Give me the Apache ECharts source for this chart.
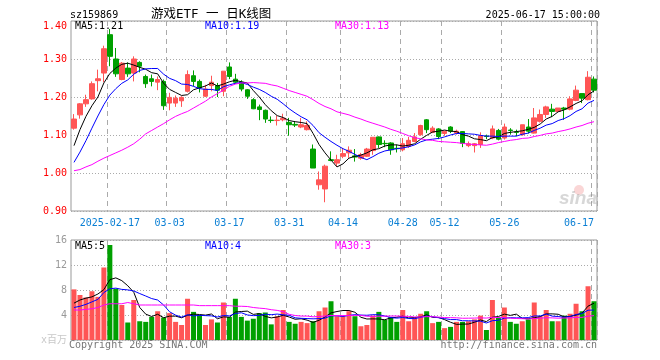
<!DOCTYPE html>
<html><head><meta charset="utf-8">
<script src="https://cdn.jsdelivr.net/npm/echarts@6/dist/echarts.min.js"></script>
<style>html,body{margin:0;padding:0;background:#fff}#c{width:660px;height:360px}</style>
</head><body><div id="c"></div>
<script>
const stockCode = 'sz159869';
const chartTitle = '游戏ETF 一 日K线图';
const timeStamp = '2025-06-17 15:00:00';

const dates = ['2025-02-07','2025-02-10','2025-02-11','2025-02-12','2025-02-13','2025-02-14',
'2025-02-17','2025-02-18','2025-02-19','2025-02-20','2025-02-21',
'2025-02-24','2025-02-25','2025-02-26','2025-02-27','2025-02-28',
'2025-03-03','2025-03-04','2025-03-05','2025-03-06','2025-03-07',
'2025-03-10','2025-03-11','2025-03-12','2025-03-13','2025-03-14',
'2025-03-17','2025-03-18','2025-03-19','2025-03-20','2025-03-21',
'2025-03-24','2025-03-25','2025-03-26','2025-03-27','2025-03-28',
'2025-03-31','2025-04-01','2025-04-02','2025-04-03',
'2025-04-07','2025-04-08','2025-04-09','2025-04-10','2025-04-11',
'2025-04-14','2025-04-15','2025-04-16','2025-04-17','2025-04-18',
'2025-04-21','2025-04-22','2025-04-23','2025-04-24','2025-04-25',
'2025-04-28','2025-04-29','2025-04-30',
'2025-05-06','2025-05-07','2025-05-08','2025-05-09',
'2025-05-12','2025-05-13','2025-05-14','2025-05-15','2025-05-16',
'2025-05-19','2025-05-20','2025-05-21','2025-05-22','2025-05-23',
'2025-05-26','2025-05-27','2025-05-28','2025-05-29','2025-05-30',
'2025-06-03','2025-06-04','2025-06-05','2025-06-06',
'2025-06-09','2025-06-10','2025-06-11','2025-06-12','2025-06-13',
'2025-06-16','2025-06-17'];

const tickDates = ['2025-02-17','2025-03-03','2025-03-17','2025-03-31','2025-04-14','2025-04-28','2025-05-12','2025-05-26','2025-06-17'];

const openP = [1.118,1.153,1.182,1.195,1.243,1.263,1.364,1.300,1.246,1.276,1.263,1.291,1.254,1.248,1.239,1.241,1.184,1.184,1.190,1.215,1.256,1.241,1.202,1.230,1.230,1.215,1.279,1.247,1.239,1.219,1.193,1.174,1.165,1.139,1.138,1.140,1.133,1.128,1.121,1.114,1.063,0.969,0.958,1.035,1.026,1.044,1.053,1.045,1.039,1.044,1.059,1.095,1.078,1.079,1.065,1.061,1.070,1.083,1.101,1.140,1.107,1.116,1.104,1.121,1.105,1.109,1.072,1.072,1.075,1.097,1.092,1.112,1.092,1.113,1.108,1.101,1.121,1.105,1.136,1.154,1.168,1.162,1.171,1.168,1.191,1.209,1.193,1.247];
const closeP = [1.142,1.182,1.193,1.235,1.248,1.327,1.307,1.261,1.289,1.261,1.300,1.281,1.235,1.241,1.246,1.177,1.199,1.197,1.199,1.259,1.241,1.224,1.221,1.239,1.218,1.268,1.254,1.239,1.221,1.202,1.169,1.167,1.142,1.138,1.139,1.144,1.127,1.126,1.127,1.125,1.013,0.982,1.018,1.033,1.035,1.051,1.060,1.042,1.048,1.063,1.094,1.075,1.077,1.061,1.064,1.077,1.086,1.095,1.125,1.114,1.118,1.096,1.110,1.110,1.110,1.078,1.077,1.077,1.098,1.096,1.116,1.089,1.121,1.112,1.107,1.127,1.110,1.145,1.154,1.174,1.162,1.171,1.168,1.195,1.218,1.197,1.252,1.218];
const lowP = [1.114,1.143,1.174,1.193,1.215,1.239,1.281,1.253,1.244,1.253,1.241,1.265,1.224,1.228,1.218,1.166,1.165,1.174,1.174,1.212,1.228,1.212,1.200,1.215,1.200,1.202,1.247,1.235,1.215,1.195,1.168,1.139,1.132,1.132,1.125,1.136,1.098,1.121,1.118,1.112,1.013,0.956,0.923,1.031,1.017,1.039,1.040,1.030,1.035,1.042,1.048,1.066,1.068,1.048,1.054,1.057,1.066,1.081,1.098,1.105,1.105,1.089,1.098,1.105,1.101,1.068,1.068,1.054,1.066,1.089,1.089,1.086,1.088,1.101,1.097,1.098,1.104,1.104,1.133,1.145,1.147,1.160,1.140,1.165,1.189,1.184,1.191,1.212];
const highP = [1.155,1.184,1.206,1.241,1.272,1.335,1.379,1.329,1.292,1.291,1.307,1.294,1.259,1.259,1.254,1.246,1.211,1.204,1.202,1.270,1.270,1.246,1.232,1.256,1.237,1.268,1.291,1.261,1.244,1.221,1.197,1.180,1.167,1.149,1.151,1.156,1.145,1.136,1.145,1.136,1.075,1.004,1.022,1.057,1.048,1.066,1.070,1.063,1.053,1.066,1.094,1.096,1.086,1.081,1.075,1.092,1.095,1.105,1.127,1.142,1.123,1.118,1.111,1.123,1.114,1.110,1.083,1.079,1.107,1.101,1.125,1.116,1.130,1.118,1.114,1.127,1.142,1.171,1.167,1.177,1.182,1.171,1.174,1.202,1.230,1.209,1.268,1.254];

const ma5 = [1.072,1.114,1.149,1.177,1.200,1.237,1.262,1.276,1.286,1.289,1.284,1.278,1.273,1.264,1.261,1.236,1.220,1.212,1.204,1.206,1.219,1.224,1.229,1.237,1.229,1.234,1.240,1.244,1.240,1.237,1.217,1.200,1.180,1.164,1.151,1.146,1.138,1.135,1.133,1.130,1.104,1.075,1.053,1.034,1.016,1.024,1.039,1.044,1.047,1.053,1.061,1.064,1.071,1.074,1.074,1.071,1.073,1.077,1.089,1.099,1.108,1.110,1.113,1.110,1.109,1.101,1.097,1.090,1.088,1.085,1.093,1.095,1.104,1.107,1.109,1.111,1.115,1.120,1.129,1.142,1.149,1.161,1.166,1.174,1.183,1.190,1.206,1.216];
const ma10 = [1.028,1.055,1.085,1.118,1.150,1.180,1.205,1.222,1.236,1.245,1.260,1.270,1.274,1.275,1.275,1.260,1.249,1.243,1.234,1.233,1.228,1.222,1.220,1.220,1.217,1.227,1.232,1.236,1.238,1.233,1.226,1.220,1.212,1.202,1.194,1.182,1.169,1.158,1.148,1.140,1.125,1.106,1.094,1.083,1.073,1.064,1.057,1.049,1.041,1.035,1.043,1.052,1.058,1.061,1.064,1.066,1.069,1.074,1.082,1.087,1.089,1.091,1.095,1.100,1.104,1.104,1.103,1.102,1.099,1.097,1.097,1.096,1.097,1.097,1.097,1.102,1.105,1.112,1.118,1.126,1.130,1.138,1.143,1.151,1.162,1.169,1.184,1.191];
const ma30 = [1.006,1.009,1.016,1.022,1.031,1.039,1.046,1.053,1.060,1.068,1.077,1.089,1.103,1.112,1.121,1.130,1.140,1.149,1.156,1.162,1.171,1.180,1.189,1.200,1.209,1.218,1.228,1.234,1.237,1.237,1.238,1.237,1.236,1.232,1.229,1.223,1.217,1.212,1.207,1.202,1.193,1.183,1.175,1.169,1.161,1.157,1.153,1.147,1.142,1.136,1.131,1.126,1.121,1.115,1.110,1.104,1.098,1.093,1.090,1.087,1.086,1.083,1.082,1.081,1.080,1.078,1.076,1.075,1.074,1.073,1.076,1.080,1.083,1.086,1.088,1.091,1.092,1.096,1.099,1.103,1.105,1.109,1.112,1.116,1.121,1.125,1.131,1.135];

const volume = [8.1,7.2,6.8,7.8,6.9,11.6,15.2,8.2,5.6,2.8,6.4,3.0,2.9,3.7,4.6,3.6,4.3,2.9,2.4,6.6,4.5,4.0,2.4,3.3,2.8,6.0,3.7,6.6,3.7,3.1,3.4,4.3,4.4,2.5,3.8,4.8,2.9,2.6,2.9,2.7,3.0,4.6,5.2,6.2,3.8,3.8,4.6,3.8,2.2,2.4,3.9,4.5,3.2,3.7,2.9,4.8,3.0,3.6,4.2,4.6,2.7,2.9,1.9,2.1,2.9,2.9,3.0,3.3,3.9,1.6,6.4,3.6,5.2,2.9,2.6,3.0,3.3,6.0,3.8,4.8,3.0,3.0,3.9,4.2,5.8,4.6,8.6,6.2];
const vma5 = [5.9,6.4,6.7,6.9,7.36,8.06,9.66,9.94,9.5,8.68,7.64,5.2,4.14,3.76,4.12,3.56,3.82,3.82,3.56,3.96,4.14,4.08,3.98,4.16,3.4,3.7,3.64,4.48,4.56,4.62,4.1,4.22,3.78,3.54,3.68,3.96,3.68,3.32,3.4,3.18,2.82,3.16,3.68,4.34,4.56,4.72,4.72,4.44,3.64,3.36,3.38,3.36,3.24,3.54,3.64,3.82,3.52,3.6,3.7,4.04,3.62,3.6,3.26,2.84,2.5,2.54,2.56,2.84,3.2,2.94,3.64,3.76,4.14,3.94,4.14,3.46,3.4,3.56,3.74,4.18,4.18,4.12,3.7,3.78,3.98,4.3,5.42,5.88];
const vma10 = [5.2,5.4,5.7,6.1,6.5,7.6,8.2,8.3,8.1,8.02,7.85,7.43,7.04,6.63,6.4,5.6,4.51,3.98,3.66,4.04,3.85,3.95,3.9,3.86,3.68,3.92,3.86,4.23,4.36,4.01,3.9,3.93,4.13,4.05,4.15,4.03,3.95,3.55,3.47,3.43,3.39,3.42,3.5,3.87,3.87,3.77,3.94,4.06,3.99,3.96,4.05,4.04,3.84,3.59,3.5,3.6,3.44,3.42,3.62,3.84,3.72,3.56,3.43,3.27,3.27,3.08,3.08,3.05,3.02,2.72,3.09,3.16,3.49,3.57,3.54,3.55,3.58,3.85,3.84,4.16,3.82,3.76,3.63,3.76,4.08,4.24,4.77,4.79];
const vma30 = [4.8,4.8,4.9,5.0,5.2,5.6,5.8,5.8,5.8,6.0,5.8,5.6,5.6,5.6,5.6,5.6,5.6,5.6,5.6,5.6,5.6,5.5,5.5,5.5,5.5,5.5,5.5,5.4,5.4,5.36,5.2,5.1,5.02,4.85,4.74,4.52,4.11,3.92,3.83,3.83,3.71,3.77,3.84,3.93,3.9,3.91,3.92,3.95,3.94,3.8,3.78,3.8,3.82,3.84,3.84,3.8,3.78,3.68,3.69,3.74,3.72,3.67,3.59,3.58,3.55,3.48,3.49,3.51,3.54,3.51,3.62,3.59,3.59,3.48,3.44,3.41,3.37,3.44,3.49,3.57,3.54,3.49,3.52,3.53,3.63,3.62,3.81,3.9];

const priceAxis = {min: 0.9, max: 1.4, step: 0.1};
const volAxis = {min: 0, max: 16, step: 4};

const UP = '#ff5555', DOWN = '#00a000';
const MONO = "'DejaVu Sans Mono','Noto Sans CJK SC',monospace";
const tickSet = new Set(tickDates);
const last = a => a[a.length - 1];
const floorTo = (v, d) => { const m = Math.pow(10, d); return (Math.floor(v * m + 1e-9) / m).toFixed(d); };

const candleData = dates.map((d, i) => [openP[i], closeP[i], lowP[i], highP[i]]);
const volData = volume.map((v, i) => ({value: v, itemStyle: {color: closeP[i] >= openP[i] ? UP : DOWN}}));

const chart = echarts.init(document.getElementById('c'), null, {renderer: 'canvas'});
const xAxisCommon = {
  type: 'category', data: dates, boundaryGap: true,
  axisLine: {show: false}, axisTick: {show: false},
  splitLine: {show: true, interval: (i, v) => tickSet.has(dates[i]), lineStyle: {color: '#aaa', type: [5, 4]}}
};
const lineS = (name, data, color, xi) => ({
  name, type: 'line', data, xAxisIndex: xi, yAxisIndex: xi, showSymbol: false, symbol: 'none',
  lineStyle: {color, width: 1}, itemStyle: {color}, silent: true, z: 5
});

chart.setOption({
  animation: false,
  backgroundColor: '#fff',
  grid: [
    {left: 71, right: 63, top: 21, height: 190, show: true, borderColor: '#999', borderWidth: 1, backgroundColor: 'transparent'},
    {left: 71, right: 63, top: 240, height: 100, show: true, borderColor: '#999', borderWidth: 1, backgroundColor: 'transparent'}
  ],
  xAxis: [
    Object.assign({}, xAxisCommon, {gridIndex: 0,
      axisLabel: {show: true, interval: (i, v) => tickSet.has(v), margin: 7, color: '#0a7fd4', fontSize: 10, fontFamily: MONO,
        alignMaxLabel: 'right',
        formatter: (v) => v === tickDates[0] ? v : v.slice(5)}}),
    Object.assign({}, xAxisCommon, {gridIndex: 1, axisLabel: {show: false}})
  ],
  yAxis: [
    {type: 'value', gridIndex: 0, min: priceAxis.min, max: priceAxis.max, interval: priceAxis.step, scale: true,
      axisLine: {show: false}, axisTick: {show: false},
      axisLabel: {color: '#f00', fontSize: 10, fontFamily: MONO, margin: 4, formatter: v => v.toFixed(2), verticalAlignMaxLabel: 'top'},
      splitLine: {lineStyle: {color: '#aaa', type: [1, 2]}}},
    {type: 'value', gridIndex: 1, min: volAxis.min, max: volAxis.max, interval: volAxis.step,
      axisLine: {show: false}, axisTick: {show: false},
      axisLabel: {color: '#999', fontSize: 10, fontFamily: MONO, margin: 4,
        formatter: v => v === 0 ? '{u|x百万}' : String(v),
        rich: {u: {color: '#c8c8c8', fontSize: 10, fontFamily: MONO}}},
      splitLine: {lineStyle: {color: '#aaa', type: [1, 2]}}}
  ],
  series: [
    {type: 'candlestick', data: candleData, xAxisIndex: 0, yAxisIndex: 0, barWidth: 5, silent: true,
      itemStyle: {color: UP, color0: DOWN, borderColor: UP, borderColor0: DOWN, borderWidth: 1}},
    lineS('MA5', ma5, '#000', 0),
    lineS('MA10', ma10, '#0000ff', 0),
    lineS('MA30', ma30, '#ff00ff', 0),
    {type: 'bar', data: volData, xAxisIndex: 1, yAxisIndex: 1, barWidth: 5, silent: true},
    lineS('VMA5', vma5, '#000', 1),
    lineS('VMA10', vma10, '#0000ff', 1),
    lineS('VMA30', vma30, '#ff00ff', 1)
  ],
  graphic: [
    {type: 'text', x: 70, y: 15, style: {text: stockCode, font: '10px ' + MONO, fill: '#000', verticalAlign: 'middle'}},
    {type: 'text', x: 151, y: 15, style: {text: chartTitle, font: '12.5px ' + MONO, fill: '#000', verticalAlign: 'middle'}},
    {type: 'text', x: 600, y: 15, style: {text: timeStamp, font: '10px ' + MONO, fill: '#000', align: 'right', verticalAlign: 'middle'}},
    {type: 'text', x: 75, y: 26.5, z: 10, style: {text: 'MA5:' + floorTo(last(ma5), 2), font: '10px ' + MONO, fill: '#000', verticalAlign: 'middle'}},
    {type: 'text', x: 205, y: 26.5, z: 10, style: {text: 'MA10:' + floorTo(last(ma10), 2), font: '10px ' + MONO, fill: '#0000ff', verticalAlign: 'middle'}},
    {type: 'text', x: 335, y: 26.5, z: 10, style: {text: 'MA30:' + floorTo(last(ma30), 2), font: '10px ' + MONO, fill: '#ff00ff', verticalAlign: 'middle'}},
    {type: 'text', x: 75, y: 246.5, z: 10, style: {text: 'MA5:' + floorTo(last(vma5), 0), font: '10px ' + MONO, fill: '#000', verticalAlign: 'middle'}},
    {type: 'text', x: 205, y: 246.5, z: 10, style: {text: 'MA10:' + floorTo(last(vma10), 0), font: '10px ' + MONO, fill: '#0000ff', verticalAlign: 'middle'}},
    {type: 'text', x: 335, y: 246.5, z: 10, style: {text: 'MA30:' + floorTo(last(vma30), 0), font: '10px ' + MONO, fill: '#ff00ff', verticalAlign: 'middle'}},
    {type: 'text', x: 69, y: 345.5, style: {text: 'Copyright 2025 SINA.COM', font: '10px ' + MONO, fill: '#777', verticalAlign: 'middle'}},
    {type: 'text', x: 597, y: 345.5, style: {text: 'http://finance.sina.com.cn', font: '10px ' + MONO, fill: '#777', align: 'right', verticalAlign: 'middle'}},
    {type: 'circle', shape: {cx: 579, cy: 190, r: 5}, style: {fill: 'rgba(235,90,90,0.25)'}, z: 1},
    {type: 'text', x: 597, y: 199, z: 1, style: {text: 'sina', font: 'italic bold 19px Arial, Liberation Sans, sans-serif', fill: 'rgba(140,140,140,0.35)', align: 'right', verticalAlign: 'middle'}}
  ]
});
</script></body></html>
